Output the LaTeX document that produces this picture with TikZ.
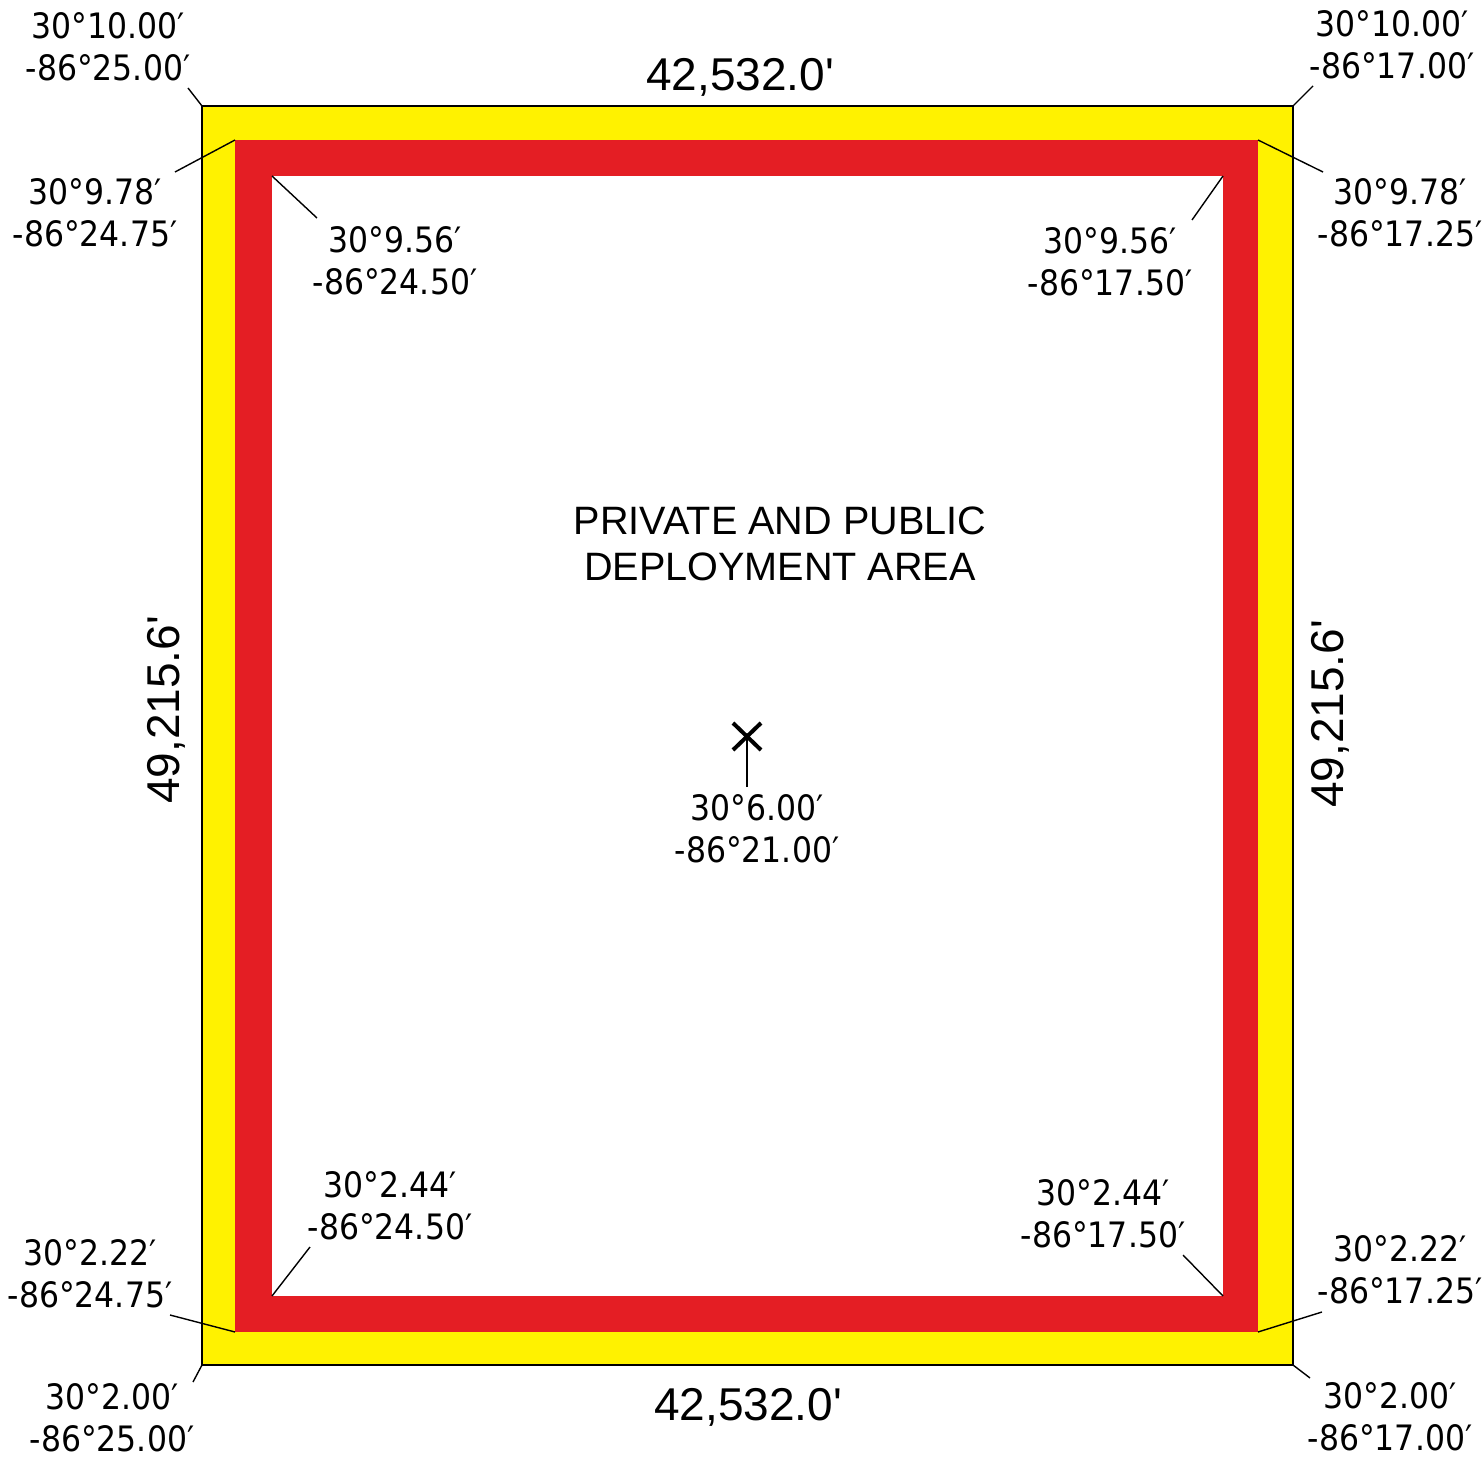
\documentclass[tikz,border=0pt]{standalone}
\usepackage{fontspec}
\setmainfont{Liberation Sans}
\newfontfamily\coordfont{DejaVu Sans Condensed}
\definecolor{bandyellow}{RGB}{255,242,0}
\definecolor{bandred}{RGB}{228,30,36}
\begin{document}
\begin{tikzpicture}[x=0.5pt,y=-0.5pt,
  coordlbl/.style={align=center,inner sep=0pt,font=\coordfont\fontsize{17.5}{21}\selectfont},
  dimlbl/.style={inner sep=0pt,font=\fontsize{23}{26}\selectfont},
  areatxt/.style={align=center,inner sep=0pt,font=\fontsize{19.8}{23}\selectfont},
  leader/.style={line width=0.7pt,black},
  xstroke/.style={line width=2pt,black}]
\useasboundingbox (0,0) rectangle (1484,1460);
% bands
\fill[bandyellow] (202,106) rectangle (1293,1365);
\fill[bandred] (235,140) rectangle (1258,1332);
\fill[white] (272,176) rectangle (1223,1296);
\draw[line width=1.4pt,line join=miter] (202,106) rectangle (1293,1365);
% corner coordinates
\coordinate (otl) at (202,106);
\coordinate (otr) at (1293,106);
\coordinate (obl) at (202,1365);
\coordinate (obr) at (1293,1365);
\coordinate (rtl) at (235,140);
\coordinate (rtr) at (1258,140);
\coordinate (rbl) at (235,1332);
\coordinate (rbr) at (1258,1332);
\coordinate (itl) at (272,176);
\coordinate (itr) at (1223,176);
\coordinate (ibl) at (272,1296);
\coordinate (ibr) at (1223,1296);
% leader ends
\coordinate (eotl) at (188,88);
\coordinate (ertl) at (175,172);
\coordinate (eitl) at (317,218);
\coordinate (eotr) at (1313,86);
\coordinate (ertr) at (1323,172);
\coordinate (eitr) at (1192,220);
\coordinate (eobl) at (193,1382);
\coordinate (erbl) at (170,1315);
\coordinate (eibl) at (310,1247);
\coordinate (eobr) at (1310,1378);
\coordinate (erbr) at (1322,1312);
\coordinate (eibr) at (1183,1255);
\draw[leader] (eotl) -- (otl);
\draw[leader] (ertl) -- (rtl);
\draw[leader] (eitl) -- (itl);
\draw[leader] (eotr) -- (otr);
\draw[leader] (ertr) -- (rtr);
\draw[leader] (eitr) -- (itr);
\draw[leader] (eobl) -- (obl);
\draw[leader] (erbl) -- (rbl);
\draw[leader] (eibl) -- (ibl);
\draw[leader] (eobr) -- (obr);
\draw[leader] (erbr) -- (rbr);
\draw[leader] (eibr) -- (ibr);
% labels
\node[coordlbl] (lotl) at (108,47) {30°10.00′\\-86°25.00′};
\node[coordlbl] (lrtl) at (95,213) {30°9.78′\\-86°24.75′};
\node[coordlbl] (litl) at (395,261) {30°9.56′\\-86°24.50′};
\node[coordlbl] (lotr) at (1392,45) {30°10.00′\\-86°17.00′};
\node[coordlbl] (lrtr) at (1400,213) {30°9.78′\\-86°17.25′};
\node[coordlbl] (litr) at (1110,262) {30°9.56′\\-86°17.50′};
\node[coordlbl] (libl) at (390,1206) {30°2.44′\\-86°24.50′};
\node[coordlbl] (lrbl) at (90,1274) {30°2.22′\\-86°24.75′};
\node[coordlbl] (lobl) at (112,1418) {30°2.00′\\-86°25.00′};
\node[coordlbl] (libr) at (1103,1214) {30°2.44′\\-86°17.50′};
\node[coordlbl] (lrbr) at (1400,1270) {30°2.22′\\-86°17.25′};
\node[coordlbl] (lobr) at (1390,1417) {30°2.00′\\-86°17.00′};
% center
\coordinate (xa) at (733,723);
\coordinate (xb) at (761,750);
\coordinate (xc) at (733,750);
\coordinate (xd) at (761,723);
\draw[xstroke] (xa) -- (xb);
\draw[xstroke] (xc) -- (xd);
\node[coordlbl] (lctr) at (757,829) {30°6.00′\\-86°21.00′};
\coordinate (xbot) at (747,737);
\coordinate (xend) at (747,787);
\draw[leader] (xend) -- (xbot);
% dimensions
\node[dimlbl] (dtop) at (740,77) {42,532.0\textquotesingle};
\node[dimlbl] (dbot) at (748,1407) {42,532.0\textquotesingle};
\node[dimlbl,rotate=90] (dleft) at (166,710) {49,215.6\textquotesingle};
\node[dimlbl,rotate=90] (dright) at (1330,714) {49,215.6\textquotesingle};
\node[areatxt] (area) at (780,544) {PRIVATE AND PUBLIC\\DEPLOYMENT AREA};
\end{tikzpicture}
\end{document}
